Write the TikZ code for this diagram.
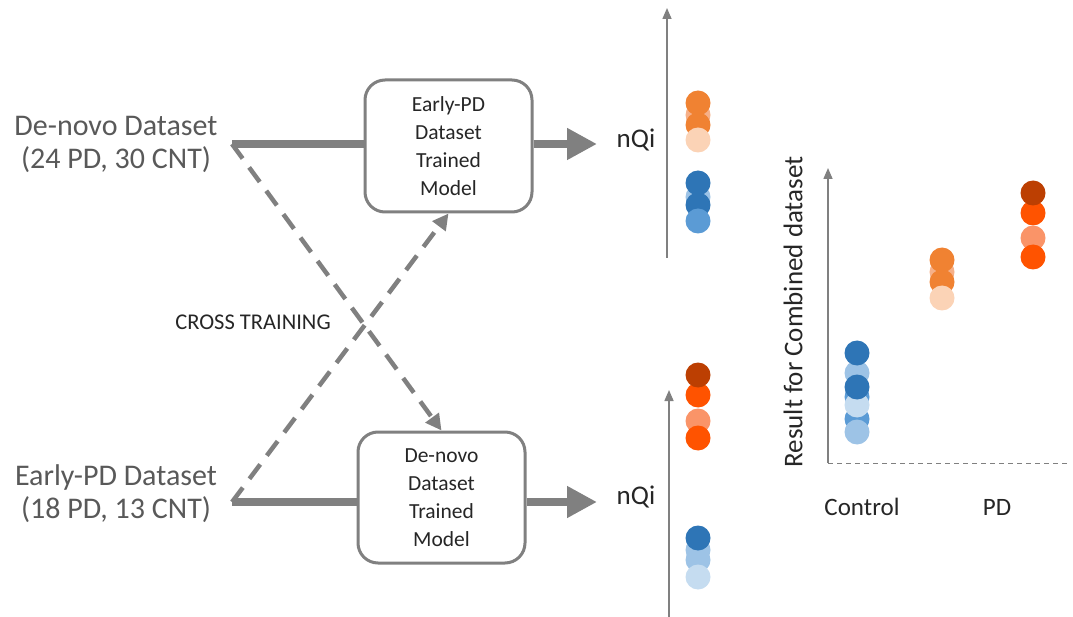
\documentclass[tikz,border=0pt]{standalone}
\usepackage{fontspec}
\setmainfont{Carlito}
\usetikzlibrary{arrows.meta,positioning}
\definecolor{linegray}{HTML}{808080}
\definecolor{textgray}{HTML}{595959}
\definecolor{blueA}{HTML}{2E75B6}
\definecolor{blueB}{HTML}{5B9BD5}
\definecolor{blueC}{HTML}{9DC3E6}
\definecolor{blueD}{HTML}{C5DCF0}
\definecolor{orA}{HTML}{F08232}
\definecolor{orB}{HTML}{F6B088}
\definecolor{orC}{HTML}{FBD3B6}
\definecolor{redA}{HTML}{BC3F02}
\definecolor{redB}{HTML}{FF5300}
\definecolor{redC}{HTML}{FA9468}
\tikzset{
  datalabel/.style={align=center, text=textgray, font=\fontsize{30}{33}\selectfont},
  modelbox/.style={draw=linegray, line width=3pt, rounded corners=20pt, fill=white,
    minimum width=167pt, align=center, text=black!85, font=\fontsize{21.5}{28}\selectfont},
  thickline/.style={draw=linegray, line width=8pt},
  thickarrow/.style={thickline, -{Triangle[length=30pt,width=30pt]}},
  crossarrow/.style={draw=linegray, line width=4.5pt, dash pattern=on 18pt off 11pt,
    -{Triangle[length=16pt,width=16pt]}},
  axisarrow/.style={draw=linegray, line width=1.5pt, -{Triangle[length=11pt,width=9pt]}},
  axislabel/.style={text=black!85, font=\fontsize{25}{28}\selectfont},
}
\begin{document}
\begin{tikzpicture}[x=1pt,y=-1pt]
	\useasboundingbox (0,0) rectangle (1073,617);
	% datasets
	\node[datalabel] (denovo) at (116,144) {De-novo Dataset\\(24 PD, 30 CNT)};
	\node[datalabel] (early) at (116,494) {Early-PD Dataset\\(18 PD, 13 CNT)};
	\coordinate (dnout) at (232,144);
	\coordinate (epout) at (232,502);
	% models
	\node[modelbox, minimum height=132pt] (mtop) at (448.5,146) {Early-PD\\Dataset\\Trained\\Model};
	\node[modelbox, minimum height=131pt] (mbot) at (441.5,497.5) {De-novo\\Dataset\\Trained\\Model};
	\node[font=\fontsize{22.5}{24}\selectfont, text=black!85] (cross) at (253,322) {CROSS TRAINING};
	\node[axislabel, font=\fontsize{27}{30}\selectfont] (nqtop) at (636,140) {nQi};
	\node[axislabel, font=\fontsize{27}{30}\selectfont] (nqbot) at (636,497) {nQi};
	\coordinate (tiptop) at (597,144);
	\coordinate (tipbot) at (597,502);
	% connectors
	\draw[crossarrow] (dnout) -- (mbot.north);
	\draw[crossarrow] (epout) -- (mtop.south);
	\draw[thickline] (dnout) -- (dnout -| mtop.west);
	\draw[thickarrow] (dnout -| mtop.east) -- (tiptop);
	\draw[thickline] (epout) -- (epout -| mbot.west);
	\draw[thickarrow] (epout -| mbot.east) -- (tipbot);
	% top nQi axis
	\coordinate (ta0) at (667,258);
	\coordinate (ta1) at (667,8);
	\draw[axisarrow] (ta0) -- (ta1);
	\foreach \y/\c in {115/orB,125/orA,140/orC,103/orA,197/blueC,205/blueA,221/blueB,183/blueA}
		\fill[\c] (698,\y) circle (12.5pt);
	% bottom nQi axis
	\coordinate (ba0) at (669,617);
	\coordinate (ba1) at (669,390);
	\draw[axisarrow] (ba0) -- (ba1);
	\foreach \y/\c in {395/redB,375/redA,421/redC,438/redB,550/blueC,560/blueC,577/blueD,538/blueA}
		\fill[\c] (698,\y) circle (12.5pt);
	% combined dataset
	\coordinate (ca0) at (828,463);
	\coordinate (ca1) at (828,168);
	\coordinate (ca2) at (1067,463);
	\draw[axisarrow] (ca0) -- (ca1);
	\draw[linegray, line width=1pt, dash pattern=on 5pt off 4pt] (ca0) -- (ca2);
	\node[axislabel, rotate=90, font=\fontsize{27}{30}\selectfont] (ylab) at (793,312) {Result for Combined dataset};
	\node[axislabel] (ctrl) at (862,507) {Control};
	\node[axislabel] (pd) at (997,507) {PD};
	\foreach \y/\c in {373/blueC,353/blueA,419/blueB,432/blueC,397/blueB,405/blueD,387/blueA}
		\fill[\c] (857,\y) circle (12.5pt);
	\foreach \y/\c in {272/orB,282/orA,298/orC,260/orA}
		\fill[\c] (942,\y) circle (12.5pt);
	\foreach \y/\c in {213/redB,193/redA,238/redC,257/redB}
		\fill[\c] (1033,\y) circle (12.5pt);
\end{tikzpicture}
\end{document}
